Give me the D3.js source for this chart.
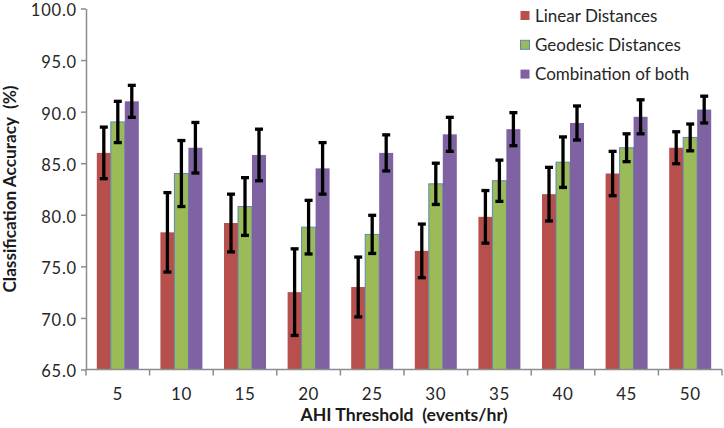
<!DOCTYPE html>
<html><head><meta charset="utf-8">
<script src="https://cdn.jsdelivr.net/npm/d3@7"></script>
<style>
html,body{margin:0;padding:0;background:#fff;}
svg{display:block;font-family:Lato,"Open Sans",sans-serif;}
</style></head>
<body>
<svg id="chart" width="724" height="428"></svg>
<script>
const categories = ["5","10","15","20","25","30","35","40","45","50"];
const seriesNames = ["Linear Distances","Geodesic Distances","Combination of both"];
const linear      = [86.0, 78.3, 79.2, 72.5, 73.0, 76.5, 79.8, 82.0, 84.0, 86.5];
const linearErr   = [2.5, 3.85, 2.8, 4.2, 2.9, 2.6, 2.55, 2.6, 2.15, 1.55];
const geodesic    = [89.0, 84.0, 80.8, 78.8, 78.1, 83.0, 83.3, 85.1, 86.5, 87.5];
const geodesicErr = [2.0, 3.2, 2.8, 2.6, 1.85, 2.0, 2.0, 2.45, 1.35, 1.3];
const combined    = [91.0, 86.5, 85.8, 84.5, 86.0, 87.8, 88.3, 88.9, 89.5, 90.2];
const combinedErr = [1.55, 2.45, 2.5, 2.5, 1.75, 1.65, 1.6, 1.65, 1.65, 1.3];
const yTicks = [65, 70, 75, 80, 85, 90, 95, 100];
const xTitle = "AHI Threshold  (events/hr)";
const yTitle = "Classification Accuracy  (%)";

const colors = ["#b7504d", "#9bbb59", "#7e62a1"];
const strokes = ["none", "#5f86b3", "none"];
const values = [linear, geodesic, combined];
const errs = [linearErr, geodesicErr, combinedErr];

const svg = d3.select("#chart");
const L = 86, R = 722, T = 8.5, B = 369.5;

const x = d3.scaleBand().domain(categories).range([L, R]).padding(0);
const xs = d3.scaleBand().domain(d3.range(3)).range([x.bandwidth()*0.17, x.bandwidth()*0.83]).padding(0);
const y = d3.scaleLinear().domain([65, 100]).range([B, T]);

const rows = [];
categories.forEach((c, i) => {
  for (let s = 0; s < 3; s++) rows.push({c, s, v: values[s][i], e: errs[s][i]});
});

// bars
svg.append("g").selectAll("rect").data(rows).join("rect")
  .attr("x", d => x(d.c) + xs(d.s))
  .attr("y", d => y(d.v))
  .attr("width", xs.bandwidth())
  .attr("height", d => y(65) - y(d.v))
  .attr("fill", d => colors[d.s])
  .attr("stroke", d => strokes[d.s])
  .attr("stroke-width", 1);

// error bars
const eg = svg.append("g").attr("stroke", "#000").attr("stroke-width", 3.3);
rows.forEach(d => {
  const cx = x(d.c) + xs(d.s) + xs.bandwidth()/2;
  const y1 = y(d.v + d.e), y2 = y(d.v - d.e);
  eg.append("line").attr("x1", cx).attr("x2", cx).attr("y1", y1).attr("y2", y2);
  eg.append("line").attr("x1", cx-4).attr("x2", cx+4).attr("y1", y1).attr("y2", y1);
  eg.append("line").attr("x1", cx-4).attr("x2", cx+4).attr("y1", y2).attr("y2", y2);
});

// y axis
const yAxis = d3.axisLeft(y).tickValues(yTicks).tickFormat(d3.format(".1f")).tickSizeInner(5).tickSizeOuter(0).tickPadding(4);
const gy = svg.append("g").attr("transform", `translate(${L},0)`).call(yAxis);
gy.select(".domain").attr("stroke", "#8c8c8c").attr("stroke-width", 1.5);
gy.selectAll(".tick line").attr("stroke", "#8c8c8c").attr("stroke-width", 1.5);
gy.selectAll(".tick text").attr("fill", "#262626").attr("dy", "0.45em")
  .style("font-size", "16.5px").style("font-family", "Lato, sans-serif").attr("letter-spacing", "0.8px");

// x axis with ticks at band boundaries
const gx = svg.append("g").attr("transform", `translate(0,${B})`);
gx.append("line").attr("x1", L).attr("x2", R).attr("y1", 0).attr("y2", 0).attr("stroke", "#8c8c8c").attr("stroke-width", 1.5);
const bounds = categories.map(c => x(c)).concat([R]);
gx.selectAll("line.tk").data(bounds).join("line").attr("class","tk")
  .attr("x1", d => d).attr("x2", d => d).attr("y1", 0).attr("y2", 6)
  .attr("stroke", "#8c8c8c").attr("stroke-width", 1.5);
gx.selectAll("text").data(categories).join("text")
  .attr("x", d => x(d) + x.bandwidth()/2)
  .attr("y", 30)
  .attr("text-anchor", "middle")
  .attr("fill", "#262626")
  .style("font-size", "17px")
  .attr("letter-spacing", "0.6px")
  .text(d => d);

// titles
svg.append("text")
  .attr("x", (L+R)/2).attr("y", 421)
  .attr("text-anchor", "middle")
  .attr("font-weight", "bold").style("font-size", "16.5px").style("white-space", "pre").attr("fill", "#1a1a1a")
  .attr("textLength", 207).attr("lengthAdjust", "spacingAndGlyphs")
  .text(xTitle);
svg.append("text")
  .attr("transform", `translate(16,${(T+B)/2}) rotate(-90)`)
  .attr("text-anchor", "middle")
  .attr("font-weight", "bold").style("font-size", "16.5px").style("white-space", "pre").attr("fill", "#1a1a1a")
  .attr("textLength", 207).attr("lengthAdjust", "spacingAndGlyphs")
  .text(yTitle);

// legend
const lg = svg.append("g");
seriesNames.forEach((n, i) => {
  const yy = 11 + i*29.3;
  lg.append("rect").attr("x", 520.5).attr("y", yy).attr("width", 9).attr("height", 9)
    .attr("fill", colors[i]).attr("stroke", strokes[i]).attr("stroke-width", 1);
  lg.append("text").attr("x", 535).attr("y", yy + 10.5)
    .attr("fill", "#262626").style("font-size", "17px")
    .text(n);
});
</script>
</body></html>
